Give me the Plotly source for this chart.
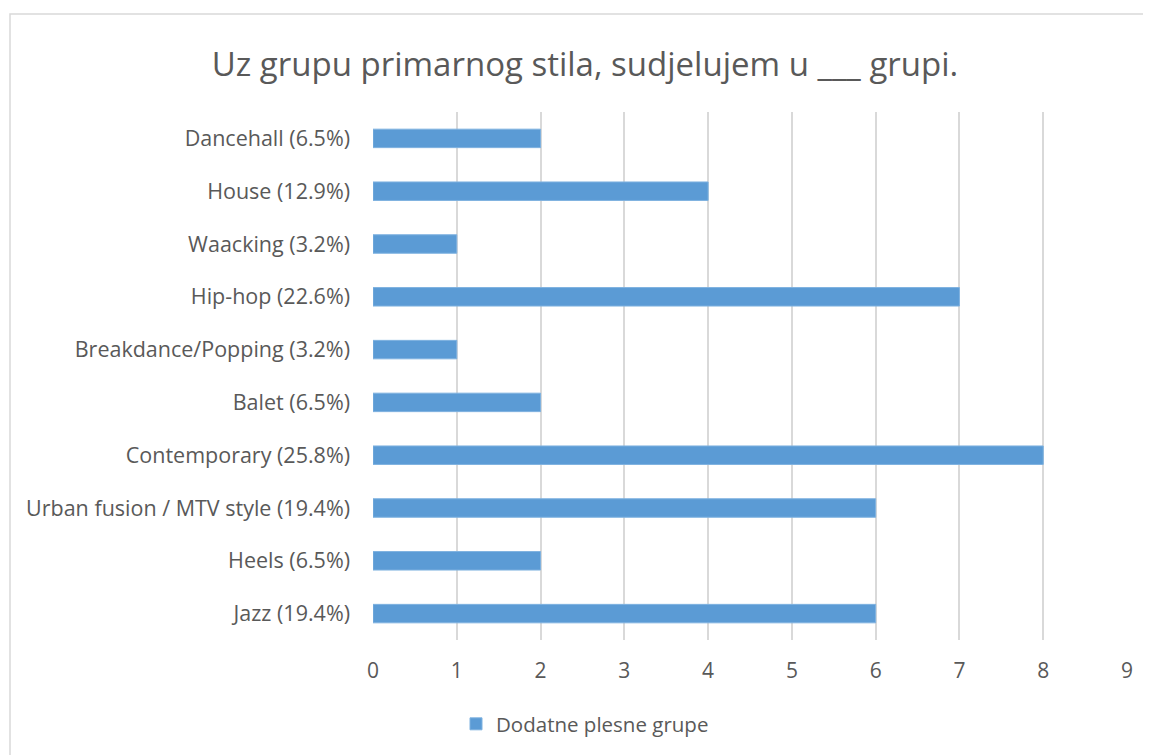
import plotly.graph_objects as go

categories = ["Jazz (19.4%)", "Heels (6.5%)", "Urban fusion / MTV style (19.4%)",
              "Contemporary (25.8%)", "Balet (6.5%)", "Breakdance/Popping (3.2%)",
              "Hip-hop (22.6%)", "Waacking (3.2%)", "House (12.9%)", "Dancehall (6.5%)"]
values = [6, 2, 6, 8, 2, 1, 7, 1, 4, 2]
series_name = "Dodatne plesne grupe"
x_ticks = list(range(0, 10))

PAGE_W, PAGE_H = 1151, 755
OFF = 8  # body margin of the page
W, H = PAGE_W - OFF, PAGE_H - OFF
# plot area in page pixels: x 373..1127, y 112..640
L, R, T, B = 373 - OFF, PAGE_W - 1127, 112 - OFF, PAGE_H - 640
FONT = "Open Sans"
TXT = "#595959"

fig = go.Figure(go.Bar(
    y=categories, x=values, orientation="h", name=series_name,
    marker=dict(color="#5B9BD5", line=dict(color="#7FB2E0", width=1)),
    showlegend=True,
))

pw = W - L - R
ph = H - T - B


def px_x(p):
    return (p - OFF - L) / pw


def px_y(p):
    return (H - B - (p - OFF)) / ph


fig.add_shape(type="rect", xref="paper", yref="paper",
              x0=px_x(10), x1=px_x(PAGE_W + 20), y0=px_y(PAGE_H + 20), y1=px_y(14),
              line=dict(color="#D9D9D9", width=1.5), fillcolor="rgba(0,0,0,0)", layer="below")

fig.update_layout(
    width=W, height=H,
    margin=dict(l=L, r=R, t=T, b=B),
    paper_bgcolor="white", plot_bgcolor="white",
    font=dict(family=FONT, color=TXT),
    title=dict(text="Uz grupu primarnog stila, sudjelujem u ___ grupi.",
               x=(585 - OFF) / W, xanchor="center", y=1 - (64 - OFF) / H, yanchor="middle",
               font=dict(size=33, color=TXT, family=FONT)),
    bargap=0.65,
    xaxis=dict(range=[0, 9], tickvals=x_ticks, showgrid=True, gridcolor="#D9D9D9",
               gridwidth=1.5, zeroline=False, showline=False, ticks="",
               tickfont=dict(size=21, color=TXT), ticklabelstandoff=16),
    yaxis=dict(showgrid=False, zeroline=False, showline=False, ticks="",
               tickfont=dict(size=21.5, color=TXT), ticklabelstandoff=22),
    legend=dict(orientation="h", x=(585 - OFF) / W, xanchor="center", xref="container",
                y=1 - (724 - OFF) / H, yanchor="middle", yref="container",
                font=dict(size=20.5, color=TXT)),
)

fig.write_html("out.html")
